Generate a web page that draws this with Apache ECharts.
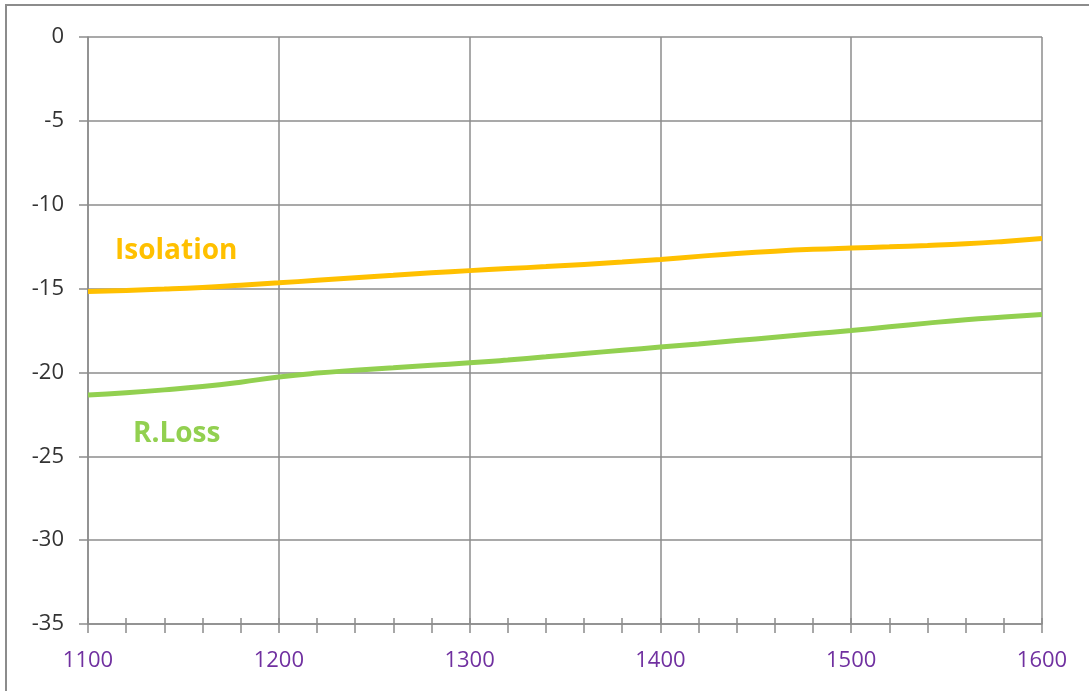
<!DOCTYPE html>
<html>
<head>
<meta charset="utf-8">
<script src="https://cdn.jsdelivr.net/npm/echarts@6/dist/echarts.min.js"></script>
<style>
html,body{margin:0;padding:0;background:#fff;}
#c{width:1089px;height:691px;}
</style>
</head>
<body>
<div id="c"></div>
<script>
var freqs = [1100,1120,1140,1160,1180,1200,1220,1240,1260,1280,1300,1320,1340,1360,1380,1400,1420,1440,1460,1480,1500,1520,1540,1560,1580,1600];
var isolation = [-15.17,-15.11,-15.03,-14.93,-14.80,-14.66,-14.51,-14.36,-14.21,-14.06,-13.93,-13.81,-13.69,-13.56,-13.42,-13.26,-13.08,-12.91,-12.77,-12.66,-12.58,-12.51,-12.43,-12.33,-12.19,-12.02];
var rloss = [-21.35,-21.21,-21.04,-20.84,-20.58,-20.27,-20.04,-19.87,-19.72,-19.57,-19.43,-19.26,-19.07,-18.87,-18.68,-18.49,-18.30,-18.10,-17.90,-17.70,-17.50,-17.28,-17.06,-16.86,-16.70,-16.55];
var seriesNames = ['Isolation','R.Loss'];
var xTicks = [1100,1200,1300,1400,1500,1600];
var yTicks = [0,-5,-10,-15,-20,-25,-30,-35];

function pairs(ys){ return freqs.map(function(f,i){ return [f, ys[i]]; }); }

var gridColor = '#8c8c8c';
var chart = echarts.init(document.getElementById('c'), null, {renderer:'canvas'});
chart.setOption({
  animation:false,
  backgroundColor:'#ffffff',
  grid:{left:88, top:37, right:47, bottom:67, containLabel:false},
  xAxis:[{
    type:'value', min:xTicks[0], max:xTicks[xTicks.length-1], interval:100,
    axisLine:{show:true, onZero:false, lineStyle:{color:gridColor, width:1.5}},
    axisTick:{show:true, inside:false, length:9, lineStyle:{color:gridColor, width:1.5}},
    minorTick:{show:true, splitNumber:5, length:9, lineStyle:{color:gridColor, width:1.5}},
    splitLine:{show:true, lineStyle:{color:gridColor, width:1.5}},
    axisLabel:{color:'#7030A0', fontFamily:'Open Sans', fontSize:22, margin:26,
      formatter:function(v){ return String(v); }}
  },{
    type:'value', min:xTicks[0], max:xTicks[xTicks.length-1], interval:100,
    axisLine:{show:false, onZero:false},
    axisTick:{show:true, inside:true, length:6, lineStyle:{color:gridColor, width:1.5}},
    minorTick:{show:true, splitNumber:5, length:6, lineStyle:{color:gridColor, width:1.5}},
    splitLine:{show:false},
    axisLabel:{show:false},
    position:'bottom'
  }],
  yAxis:{
    type:'value', min:yTicks[yTicks.length-1], max:yTicks[0], interval:5,
    axisLine:{show:true, onZero:false, lineStyle:{color:gridColor, width:1.5}},
    axisTick:{show:true, length:9, lineStyle:{color:gridColor, width:1.5}},
    splitLine:{show:true, lineStyle:{color:gridColor, width:1.5}},
    axisLabel:{color:'#333333', fontFamily:'Open Sans', fontSize:22, margin:24}
  },
  series:[{
    name:seriesNames[0], type:'line', xAxisIndex:0, data:pairs(isolation), smooth:0.5,
    symbol:'none', lineStyle:{color:'#FFC000', width:5}, z:5
  },{
    name:seriesNames[1], type:'line', xAxisIndex:0, data:pairs(rloss), smooth:0.5,
    symbol:'none', lineStyle:{color:'#92D050', width:5}, z:5
  }],
  graphic:[{
    type:'rect', shape:{x:6, y:5, width:1200, height:1000},
    style:{fill:'none', stroke:'#8c8c8c', lineWidth:2}, silent:true, z:100
  },{
    type:'text', left:115, top:237,
    style:{text:seriesNames[0], fill:'#FFC000', font:'bold 28px "Open Sans"'}
  },{
    type:'text', left:133, top:420,
    style:{text:seriesNames[1], fill:'#92D050', font:'bold 28px "Open Sans"'}
  }]
});
</script>
</body>
</html>
